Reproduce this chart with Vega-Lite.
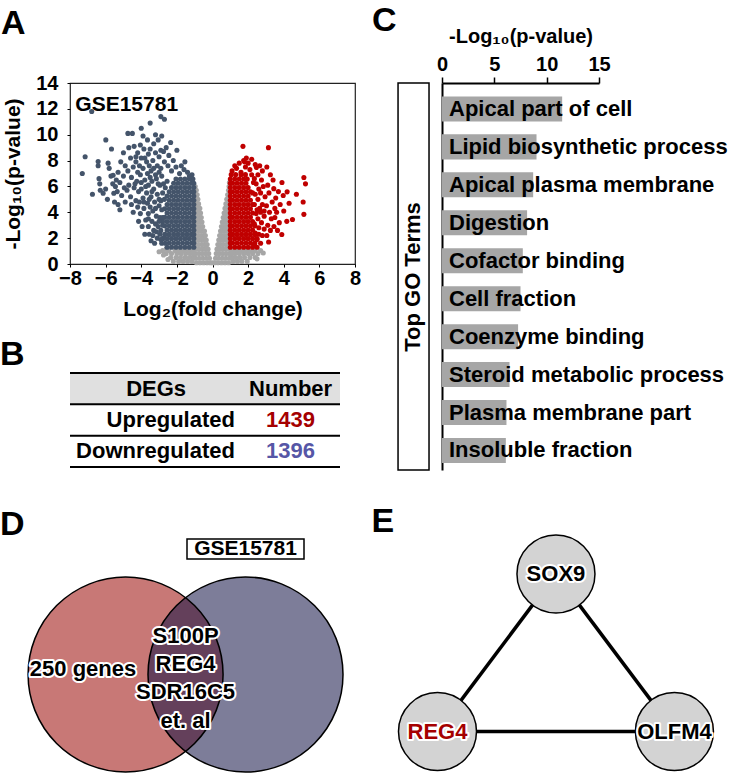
{
  "$schema": "https://vega.github.io/schema/vega-lite/v6.json",
  "background": "white",
  "padding": {"left": 0, "top": 4, "right": 0, "bottom": 0},
  "config": {
    "font": "Liberation Sans",
    "view": {"stroke": null},
    "title": {"fontSize": 34, "fontWeight": "bold", "anchor": "start", "frame": "group", "baseline": "alphabetic", "color": "black", "font": "Liberation Sans"},
    "axis": {"labelFont": "Liberation Sans", "titleFont": "Liberation Sans", "labelFontWeight": "bold", "titleFontWeight": "bold", "labelColor": "black", "titleColor": "black", "tickColor": "black", "domainColor": "black", "grid": false}
  },
  "datasets": {
    "ns": [
      {"x":-0.9,"y":0.1},{"x":-0.7,"y":0.1},{"x":-0.5,"y":0.1},{"x":-0.3,"y":0.1},{"x":-0.12,"y":0.1},{"x":0,"y":0.1},{"x":0.12,"y":0.1},{"x":0.3,"y":0.1},{"x":0.5,"y":0.1},{"x":0.7,"y":0.1},{"x":0.9,"y":0.1},
      {"x":-0.95,"y":0.45},{"x":-0.75,"y":0.45},{"x":-0.55,"y":0.45},{"x":-0.35,"y":0.45},{"x":-0.17,"y":0.45},{"x":0.17,"y":0.45},{"x":0.35,"y":0.45},{"x":0.55,"y":0.45},{"x":0.75,"y":0.45},{"x":0.95,"y":0.45},
      {"x":-0.95,"y":0.8},{"x":-0.76,"y":0.8},{"x":-0.57,"y":0.8},{"x":-0.38,"y":0.8},{"x":-0.21,"y":0.8},{"x":0.21,"y":0.8},{"x":0.38,"y":0.8},{"x":0.57,"y":0.8},{"x":0.76,"y":0.8},{"x":0.95,"y":0.8},
      {"x":-0.96,"y":1.15},{"x":-0.77,"y":1.15},{"x":-0.58,"y":1.15},{"x":-0.4,"y":1.15},{"x":-0.25,"y":1.15},{"x":0.25,"y":1.15},{"x":0.4,"y":1.15},{"x":0.58,"y":1.15},{"x":0.77,"y":1.15},{"x":0.96,"y":1.15},
      {"x":-0.96,"y":1.5},{"x":-0.78,"y":1.5},{"x":-0.6,"y":1.5},{"x":-0.44,"y":1.5},{"x":-0.3,"y":1.5},{"x":0.3,"y":1.5},{"x":0.44,"y":1.5},{"x":0.6,"y":1.5},{"x":0.78,"y":1.5},{"x":0.96,"y":1.5},
      {"x":-0.96,"y":1.85},{"x":-0.79,"y":1.85},{"x":-0.62,"y":1.85},{"x":-0.47,"y":1.85},{"x":-0.35,"y":1.85},{"x":0.35,"y":1.85},{"x":0.48,"y":1.85},{"x":0.63,"y":1.85},{"x":0.8,"y":1.85},{"x":0.97,"y":1.85},
      {"x":-0.96,"y":2.2},{"x":-0.8,"y":2.2},{"x":-0.64,"y":2.2},{"x":-0.5,"y":2.2},{"x":-0.4,"y":2.2},{"x":0.4,"y":2.2},{"x":0.52,"y":2.2},{"x":0.66,"y":2.2},{"x":0.81,"y":2.2},{"x":0.97,"y":2.2},
      {"x":-0.96,"y":2.55},{"x":-0.81,"y":2.55},{"x":-0.66,"y":2.55},{"x":-0.53,"y":2.55},{"x":-0.45,"y":2.55},{"x":0.45,"y":2.55},{"x":0.57,"y":2.55},{"x":0.7,"y":2.55},{"x":0.83,"y":2.55},{"x":0.97,"y":2.55},
      {"x":-0.97,"y":2.9},{"x":-0.83,"y":2.9},{"x":-0.69,"y":2.9},{"x":-0.55,"y":2.9},{"x":0.5,"y":2.9},{"x":0.62,"y":2.9},{"x":0.75,"y":2.9},{"x":0.87,"y":2.9},
      {"x":-0.97,"y":3.25},{"x":-0.84,"y":3.25},{"x":-0.71,"y":3.25},{"x":-0.59,"y":3.25},{"x":0.55,"y":3.25},{"x":0.66,"y":3.25},{"x":0.78,"y":3.25},{"x":0.9,"y":3.25},
      {"x":-0.97,"y":3.6},{"x":-0.85,"y":3.6},{"x":-0.73,"y":3.6},{"x":-0.63,"y":3.6},{"x":0.6,"y":3.6},{"x":0.71,"y":3.6},{"x":0.82,"y":3.6},
      {"x":-0.97,"y":3.95},{"x":-0.86,"y":3.95},{"x":-0.75,"y":3.95},{"x":-0.67,"y":3.95},{"x":0.65,"y":3.95},{"x":0.75,"y":3.95},{"x":0.86,"y":3.95},
      {"x":-0.97,"y":4.3},{"x":-0.87,"y":4.3},{"x":-0.77,"y":4.3},{"x":-0.71,"y":4.3},{"x":0.7,"y":4.3},{"x":0.8,"y":4.3},{"x":0.9,"y":4.3},
      {"x":-0.98,"y":4.65},{"x":-0.88,"y":4.65},{"x":-0.78,"y":4.65},{"x":0.75,"y":4.65},{"x":0.84,"y":4.65},
      {"x":-0.98,"y":5.0},{"x":-0.89,"y":5.0},{"x":-0.82,"y":5.0},{"x":0.8,"y":5.0},{"x":0.88,"y":5.0},
      {"x":-0.98,"y":5.35},{"x":-0.9,"y":5.35},{"x":-0.86,"y":5.35},{"x":0.85,"y":5.35},{"x":0.92,"y":5.35},
      {"x":-0.98,"y":5.7},{"x":-0.91,"y":5.7},{"x":0.9,"y":5.7},
      {"x":-0.97,"y":6.0},{"x":0.93,"y":6.0},{"x":0.95,"y":6.3},
      {"x":-1.15,"y":0.2},{"x":-1.4,"y":0.2},{"x":-1.65,"y":0.2},{"x":-1.9,"y":0.2},{"x":-2.2,"y":0.2},
      {"x":-1.1,"y":0.5},{"x":-1.3,"y":0.5},{"x":-1.55,"y":0.5},{"x":-1.8,"y":0.5},{"x":-2.05,"y":0.5},{"x":-2.35,"y":0.5},
      {"x":-1.05,"y":0.8},{"x":-1.25,"y":0.8},{"x":-1.5,"y":0.8},{"x":-1.75,"y":0.8},{"x":-2.0,"y":0.8},{"x":-2.3,"y":0.8},{"x":-2.6,"y":0.8},
      {"x":-1.15,"y":1.05},{"x":-1.35,"y":1.05},{"x":-1.6,"y":1.05},{"x":-1.85,"y":1.05},{"x":-2.1,"y":1.05},{"x":-2.45,"y":1.05},{"x":-2.8,"y":1.05},
      {"x":-2.5,"y":0.35},{"x":-2.75,"y":0.7},{"x":-3.0,"y":0.95},{"x":-2.6,"y":1.15},
      {"x":1.15,"y":0.2},{"x":1.4,"y":0.2},{"x":1.65,"y":0.2},{"x":1.95,"y":0.2},
      {"x":1.1,"y":0.5},{"x":1.3,"y":0.5},{"x":1.55,"y":0.5},{"x":1.8,"y":0.5},{"x":2.1,"y":0.5},{"x":2.4,"y":0.5},
      {"x":1.05,"y":0.8},{"x":1.25,"y":0.8},{"x":1.5,"y":0.8},{"x":1.75,"y":0.8},{"x":2.0,"y":0.8},{"x":2.25,"y":0.8},{"x":2.55,"y":0.8},
      {"x":1.15,"y":1.05},{"x":1.35,"y":1.05},{"x":1.6,"y":1.05},{"x":1.85,"y":1.05},{"x":2.1,"y":1.05},{"x":2.4,"y":1.05},{"x":2.7,"y":1.05},
      {"x":2.5,"y":0.4},{"x":2.85,"y":0.85},{"x":2.3,"y":1.15}
    ],
    "down": [
      {"x":-1.05,"y":1.3},{"x":-1.3,"y":1.3},{"x":-1.55,"y":1.3},{"x":-1.8,"y":1.3},{"x":-2.05,"y":1.3},{"x":-2.3,"y":1.3},{"x":-2.55,"y":1.3},
      {"x":-1.05,"y":1.63},{"x":-1.18,"y":1.63},{"x":-1.43,"y":1.63},{"x":-1.68,"y":1.63},{"x":-1.93,"y":1.63},{"x":-2.18,"y":1.63},{"x":-2.43,"y":1.63},
      {"x":-1.05,"y":1.96},{"x":-1.3,"y":1.96},{"x":-1.55,"y":1.96},{"x":-1.8,"y":1.96},{"x":-2.05,"y":1.96},{"x":-2.3,"y":1.96},{"x":-2.55,"y":1.96},{"x":-2.8,"y":1.96},
      {"x":-1.05,"y":2.29},{"x":-1.18,"y":2.29},{"x":-1.43,"y":2.29},{"x":-1.68,"y":2.29},{"x":-1.93,"y":2.29},{"x":-2.18,"y":2.29},{"x":-2.43,"y":2.29},{"x":-2.68,"y":2.29},
      {"x":-1.05,"y":2.62},{"x":-1.3,"y":2.62},{"x":-1.55,"y":2.62},{"x":-1.8,"y":2.62},{"x":-2.05,"y":2.62},{"x":-2.3,"y":2.62},{"x":-2.55,"y":2.62},
      {"x":-1.05,"y":2.95},{"x":-1.18,"y":2.95},{"x":-1.43,"y":2.95},{"x":-1.68,"y":2.95},{"x":-1.93,"y":2.95},{"x":-2.18,"y":2.95},{"x":-2.43,"y":2.95},{"x":-2.68,"y":2.95},
      {"x":-1.05,"y":3.28},{"x":-1.3,"y":3.28},{"x":-1.55,"y":3.28},{"x":-1.8,"y":3.28},{"x":-2.05,"y":3.28},{"x":-2.3,"y":3.28},{"x":-2.55,"y":3.28},{"x":-2.8,"y":3.28},
      {"x":-1.05,"y":3.61},{"x":-1.18,"y":3.61},{"x":-1.43,"y":3.61},{"x":-1.68,"y":3.61},{"x":-1.93,"y":3.61},{"x":-2.18,"y":3.61},{"x":-2.43,"y":3.61},{"x":-2.68,"y":3.61},
      {"x":-1.05,"y":3.94},{"x":-1.3,"y":3.94},{"x":-1.55,"y":3.94},{"x":-1.8,"y":3.94},{"x":-2.05,"y":3.94},{"x":-2.3,"y":3.94},{"x":-2.55,"y":3.94},
      {"x":-1.05,"y":4.27},{"x":-1.18,"y":4.27},{"x":-1.43,"y":4.27},{"x":-1.68,"y":4.27},{"x":-1.93,"y":4.27},{"x":-2.18,"y":4.27},{"x":-2.43,"y":4.27},{"x":-2.68,"y":4.27},
      {"x":-1.05,"y":4.6},{"x":-1.3,"y":4.6},{"x":-1.55,"y":4.6},{"x":-1.8,"y":4.6},{"x":-2.05,"y":4.6},{"x":-2.3,"y":4.6},{"x":-2.55,"y":4.6},
      {"x":-1.05,"y":4.93},{"x":-1.18,"y":4.93},{"x":-1.43,"y":4.93},{"x":-1.68,"y":4.93},{"x":-1.93,"y":4.93},{"x":-2.18,"y":4.93},{"x":-2.43,"y":4.93},
      {"x":-1.05,"y":5.26},{"x":-1.3,"y":5.26},{"x":-1.55,"y":5.26},{"x":-1.8,"y":5.26},{"x":-2.05,"y":5.26},{"x":-2.3,"y":5.26},{"x":-2.55,"y":5.26},
      {"x":-1.05,"y":5.59},{"x":-1.18,"y":5.59},{"x":-1.43,"y":5.59},{"x":-1.68,"y":5.59},{"x":-1.93,"y":5.59},{"x":-2.18,"y":5.59},{"x":-2.43,"y":5.59},
      {"x":-1.05,"y":5.92},{"x":-1.3,"y":5.92},{"x":-1.55,"y":5.92},{"x":-1.8,"y":5.92},{"x":-2.05,"y":5.92},{"x":-2.3,"y":5.92},
      {"x":-1.05,"y":6.25},{"x":-1.18,"y":6.25},{"x":-1.43,"y":6.25},{"x":-1.68,"y":6.25},{"x":-1.93,"y":6.25},{"x":-2.18,"y":6.25},
      {"x":-1.1,"y":6.58},{"x":-1.3,"y":6.58},{"x":-1.55,"y":6.58},{"x":-1.8,"y":6.58},{"x":-2.05,"y":6.58},
      {"x":-2.85,"y":1.6},{"x":-2.9,"y":2.6},{"x":-2.8,"y":3.0},{"x":-2.95,"y":3.6},{"x":-2.85,"y":4.2},{"x":-2.9,"y":4.9},{"x":-2.8,"y":5.5},{"x":-2.95,"y":6.1},{"x":-2.85,"y":6.8},{"x":-2.9,"y":7.4},{"x":-2.7,"y":7.9},{"x":-3.0,"y":8.3},
      {"x":-1.15,"y":6.9},{"x":-1.4,"y":7.1},{"x":-1.3,"y":6.8},{"x":-1.6,"y":7.3},{"x":-1.85,"y":7.0},{"x":-2.05,"y":7.5},{"x":-2.3,"y":7.2},{"x":-2.5,"y":7.6},{"x":-1.75,"y":7.6},{"x":-2.2,"y":8.0},{"x":-2.45,"y":8.4},{"x":-2.0,"y":8.8},{"x":-2.6,"y":9.0},{"x":-2.35,"y":9.4},{"x":-1.55,"y":7.9},{"x":-2.75,"y":8.7},{"x":-2.55,"y":6.4},{"x":-2.65,"y":5.9},{"x":-2.7,"y":5.0},
      {"x":-2.9,"y":11.4},{"x":-2.7,"y":11.2},{"x":-3.5,"y":10.9},{"x":-4.0,"y":10.5},{"x":-4.5,"y":10.1},{"x":-4.75,"y":10.1},{"x":-3.2,"y":10.0},{"x":-2.85,"y":9.9},{"x":-3.05,"y":9.6},{"x":-3.9,"y":9.9},
      {"x":-3.1,"y":2.0},{"x":-3.3,"y":2.6},{"x":-3.05,"y":2.9},{"x":-3.4,"y":3.3},{"x":-3.15,"y":3.7},{"x":-3.35,"y":4.1},{"x":-3.0,"y":4.5},{"x":-3.25,"y":4.8},{"x":-3.45,"y":5.2},{"x":-3.1,"y":5.4},{"x":-3.3,"y":5.8},{"x":-3.05,"y":6.2},{"x":-3.4,"y":6.4},{"x":-3.2,"y":6.9},{"x":-3.45,"y":7.2},{"x":-3.1,"y":7.6},{"x":-3.35,"y":8.0},{"x":-3.2,"y":8.6},{"x":-3.5,"y":8.9},{"x":-3.3,"y":9.3},{"x":-3.45,"y":1.8},{"x":-3.55,"y":2.3},{"x":-3.2,"y":3.1},
      {"x":-3.6,"y":2.9},{"x":-3.75,"y":3.4},{"x":-3.95,"y":2.9},{"x":-3.6,"y":3.9},{"x":-3.85,"y":4.3},{"x":-4.05,"y":3.9},{"x":-3.65,"y":4.7},{"x":-3.9,"y":5.1},{"x":-3.7,"y":5.5},{"x":-4.0,"y":5.8},{"x":-3.6,"y":6.1},{"x":-3.8,"y":6.5},{"x":-4.05,"y":6.9},{"x":-3.65,"y":7.0},{"x":-3.9,"y":7.4},{"x":-3.7,"y":7.9},{"x":-4.0,"y":8.2},{"x":-3.6,"y":8.5},{"x":-3.85,"y":8.9},{"x":-4.05,"y":9.2},{"x":-3.65,"y":9.6},{"x":-3.55,"y":5.0},{"x":-3.8,"y":2.3},
      {"x":-2.75,"y":2.0},{"x":-2.95,"y":2.3},{"x":-3.15,"y":2.5},{"x":-2.8,"y":3.6},{"x":-3.0,"y":3.3},{"x":-3.2,"y":4.3},{"x":-3.0,"y":5.0},{"x":-3.15,"y":6.6},{"x":-2.75,"y":6.2},{"x":-3.3,"y":7.4},{"x":-3.0,"y":7.1},{"x":-3.55,"y":7.6},{"x":-3.5,"y":6.7},{"x":-3.75,"y":6.0},{"x":-3.5,"y":4.4},{"x":-3.85,"y":4.8},{"x":-4.1,"y":4.8},{"x":-4.0,"y":6.3},{"x":-4.35,"y":6.2},{"x":-4.1,"y":7.6},{"x":-3.8,"y":8.2},{"x":-4.3,"y":8.3},{"x":-2.9,"y":8.8},{"x":-3.4,"y":5.6},{"x":-3.6,"y":3.5},{"x":-3.35,"y":2.2},{"x":-2.65,"y":1.6},{"x":-2.9,"y":1.9},{"x":-3.25,"y":1.6},
      {"x":-4.2,"y":4.4},{"x":-4.45,"y":4.0},{"x":-4.3,"y":4.9},{"x":-4.6,"y":5.2},{"x":-4.15,"y":5.6},{"x":-4.4,"y":5.9},{"x":-4.7,"y":6.1},{"x":-4.25,"y":6.4},{"x":-4.55,"y":6.7},{"x":-4.2,"y":7.1},{"x":-4.45,"y":7.5},{"x":-4.75,"y":7.2},{"x":-4.3,"y":7.9},{"x":-4.6,"y":8.2},{"x":-4.2,"y":8.6},{"x":-4.4,"y":9.1},{"x":-4.7,"y":9.0},{"x":-4.15,"y":3.3},{"x":-4.55,"y":4.6},{"x":-4.8,"y":5.7},
      {"x":-4.9,"y":4.8},{"x":-5.1,"y":5.3},{"x":-4.95,"y":5.9},{"x":-5.2,"y":6.3},{"x":-5.0,"y":6.8},{"x":-5.3,"y":7.1},{"x":-4.9,"y":7.6},{"x":-5.15,"y":7.9},{"x":-5.35,"y":5.6},{"x":-5.4,"y":6.5},{"x":-5.0,"y":8.6},{"x":-5.2,"y":4.2},{"x":-5.45,"y":6.0},{"x":-5.3,"y":4.6},
      {"x":-5.6,"y":6.2},{"x":-5.7,"y":6.8},{"x":-5.58,"y":6.86},{"x":-5.67,"y":8.9},{"x":-5.86,"y":7.8},{"x":-5.8,"y":7.4},{"x":-5.99,"y":9.6},{"x":-6.14,"y":5.47},{"x":-6.3,"y":5.7},{"x":-6.33,"y":6.2},{"x":-6.37,"y":6.6},{"x":-6.42,"y":7.6},{"x":-6.42,"y":7.93},{"x":-5.54,"y":5.47},{"x":-5.5,"y":4.8},{"x":-5.9,"y":5.0},{"x":-6.0,"y":5.8},
      {"x":-6.74,"y":5.4},{"x":-6.78,"y":11.8},{"x":-7.15,"y":8.3},{"x":-7.31,"y":7.0}
    ],
    "up": [
      {"x":1.0,"y":1.3},{"x":1.25,"y":1.3},{"x":1.5,"y":1.3},{"x":1.75,"y":1.3},{"x":2.0,"y":1.3},{"x":2.25,"y":1.3},{"x":2.5,"y":1.3},
      {"x":1.0,"y":1.63},{"x":1.13,"y":1.63},{"x":1.38,"y":1.63},{"x":1.63,"y":1.63},{"x":1.88,"y":1.63},{"x":2.13,"y":1.63},{"x":2.38,"y":1.63},
      {"x":1.0,"y":1.96},{"x":1.25,"y":1.96},{"x":1.5,"y":1.96},{"x":1.75,"y":1.96},{"x":2.0,"y":1.96},{"x":2.25,"y":1.96},{"x":2.5,"y":1.96},
      {"x":1.0,"y":2.29},{"x":1.13,"y":2.29},{"x":1.38,"y":2.29},{"x":1.63,"y":2.29},{"x":1.88,"y":2.29},{"x":2.13,"y":2.29},{"x":2.38,"y":2.29},
      {"x":1.0,"y":2.62},{"x":1.25,"y":2.62},{"x":1.5,"y":2.62},{"x":1.75,"y":2.62},{"x":2.0,"y":2.62},{"x":2.25,"y":2.62},
      {"x":1.0,"y":2.95},{"x":1.13,"y":2.95},{"x":1.38,"y":2.95},{"x":1.63,"y":2.95},{"x":1.88,"y":2.95},{"x":2.13,"y":2.95},{"x":2.38,"y":2.95},
      {"x":1.0,"y":3.28},{"x":1.25,"y":3.28},{"x":1.5,"y":3.28},{"x":1.75,"y":3.28},{"x":2.0,"y":3.28},{"x":2.25,"y":3.28},
      {"x":1.0,"y":3.61},{"x":1.13,"y":3.61},{"x":1.38,"y":3.61},{"x":1.63,"y":3.61},{"x":1.88,"y":3.61},{"x":2.13,"y":3.61},
      {"x":1.0,"y":3.94},{"x":1.25,"y":3.94},{"x":1.5,"y":3.94},{"x":1.75,"y":3.94},{"x":2.0,"y":3.94},{"x":2.25,"y":3.94},
      {"x":1.0,"y":4.27},{"x":1.13,"y":4.27},{"x":1.38,"y":4.27},{"x":1.63,"y":4.27},{"x":1.88,"y":4.27},{"x":2.13,"y":4.27},
      {"x":1.0,"y":4.6},{"x":1.25,"y":4.6},{"x":1.5,"y":4.6},{"x":1.75,"y":4.6},{"x":2.0,"y":4.6},{"x":2.25,"y":4.6},
      {"x":1.0,"y":4.93},{"x":1.13,"y":4.93},{"x":1.38,"y":4.93},{"x":1.63,"y":4.93},{"x":1.88,"y":4.93},{"x":2.13,"y":4.93},
      {"x":1.0,"y":5.26},{"x":1.25,"y":5.26},{"x":1.5,"y":5.26},{"x":1.75,"y":5.26},{"x":2.0,"y":5.26},
      {"x":1.0,"y":5.59},{"x":1.13,"y":5.59},{"x":1.38,"y":5.59},{"x":1.63,"y":5.59},{"x":1.88,"y":5.59},{"x":2.13,"y":5.59},
      {"x":1.0,"y":5.92},{"x":1.25,"y":5.92},{"x":1.5,"y":5.92},{"x":1.75,"y":5.92},{"x":2.0,"y":5.92},
      {"x":1.0,"y":6.25},{"x":1.13,"y":6.25},{"x":1.38,"y":6.25},{"x":1.63,"y":6.25},{"x":1.88,"y":6.25},
      {"x":1.0,"y":6.58},{"x":1.25,"y":6.58},{"x":1.5,"y":6.58},{"x":1.75,"y":6.58},{"x":1.95,"y":6.58},
      {"x":1.05,"y":6.91},{"x":1.3,"y":6.91},{"x":1.6,"y":6.91},{"x":1.85,"y":6.91},
      {"x":1.1,"y":7.2},{"x":1.35,"y":7.4},{"x":1.6,"y":7.1},{"x":1.85,"y":7.5},{"x":2.1,"y":7.3},{"x":1.5,"y":7.8},{"x":1.75,"y":8.0},{"x":1.9,"y":8.2},{"x":1.8,"y":7.9},{"x":2.0,"y":7.8},{"x":1.25,"y":7.6},{"x":1.71,"y":9.1},{"x":2.4,"y":7.7},{"x":2.2,"y":8.1},{"x":2.2,"y":6.9},{"x":2.3,"y":6.3},{"x":2.25,"y":5.5},
      {"x":2.35,"y":1.5},{"x":2.5,"y":1.9},{"x":2.4,"y":2.4},{"x":2.6,"y":2.8},{"x":2.35,"y":3.1},{"x":2.55,"y":3.5},{"x":2.45,"y":3.9},{"x":2.65,"y":4.3},{"x":2.35,"y":4.6},{"x":2.55,"y":5.0},{"x":2.4,"y":5.4},{"x":2.6,"y":5.8},{"x":2.45,"y":6.2},{"x":2.35,"y":6.6},{"x":2.55,"y":6.9},{"x":2.7,"y":1.6},{"x":2.8,"y":2.2},{"x":2.75,"y":3.2},{"x":2.9,"y":3.7},{"x":2.8,"y":4.6},{"x":2.95,"y":5.2},{"x":2.7,"y":5.5},{"x":2.85,"y":6.0},{"x":2.75,"y":6.5},{"x":2.9,"y":2.7},{"x":2.46,"y":7.46},{"x":2.8,"y":7.2},{"x":2.65,"y":7.6},{"x":2.6,"y":2.3},{"x":2.5,"y":4.2},{"x":2.7,"y":4.0},{"x":2.9,"y":4.1},
      {"x":3.03,"y":4.5},{"x":3.17,"y":5.5},{"x":3.44,"y":5.83},{"x":3.4,"y":6.5},{"x":3.14,"y":9.0},{"x":3.1,"y":3.0},{"x":3.3,"y":3.5},{"x":3.2,"y":4.0},{"x":3.5,"y":4.3},{"x":3.05,"y":2.2},{"x":3.25,"y":2.6},{"x":3.45,"y":2.9},{"x":3.35,"y":4.8},{"x":3.55,"y":5.1},{"x":3.1,"y":6.1},{"x":3.25,"y":6.9},{"x":3.05,"y":7.5},{"x":3.5,"y":3.6},{"x":3.6,"y":4.0},{"x":3.15,"y":1.7},
      {"x":3.97,"y":5.3},{"x":3.89,"y":2.28},{"x":4.17,"y":3.3},{"x":4.49,"y":3.44},{"x":4.19,"y":5.58},{"x":4.71,"y":5.39},{"x":5.13,"y":6.69},{"x":5.22,"y":6.2},{"x":5.09,"y":4.8},{"x":5.13,"y":3.84},{"x":3.7,"y":5.6},{"x":3.8,"y":4.6},{"x":3.75,"y":3.2},{"x":4.0,"y":4.1},{"x":3.65,"y":2.6},{"x":3.9,"y":6.3},{"x":4.3,"y":4.7}
    ],
    "table": [
      {"row": "h", "c1": "DEGs", "c2": "Number"},
      {"row": "u", "c1": "Upregulated", "c2": "1439"},
      {"row": "d", "c1": "Downregulated", "c2": "1396"}
    ],
    "go": [
      {"term": "Apical part of cell", "value": 11.48},
      {"term": "Lipid biosynthetic process", "value": 9.03},
      {"term": "Apical plasma membrane", "value": 8.71},
      {"term": "Digestion", "value": 8.13},
      {"term": "Cofactor binding", "value": 7.72},
      {"term": "Cell fraction", "value": 7.5},
      {"term": "Coenzyme binding", "value": 7.27},
      {"term": "Steroid metabolic process", "value": 6.45},
      {"term": "Plasma membrane part", "value": 6.16},
      {"term": "Insoluble fraction", "value": 6.1}
    ],
    "venn": [
      {"set": "DEGs", "x": -0.615, "y": 0},
      {"set": "GSE15781", "x": 0.615, "y": 0}
    ],
    "vennLabels": [
      {"t": "250 genes", "x": -1.051, "y": 0.056},
      {"t": "S100P", "x": 0, "y": 0.4},
      {"t": "REG4", "x": 0, "y": 0.108},
      {"t": "SDR16C5", "x": 0, "y": -0.18},
      {"t": "et. al", "x": 0, "y": -0.474}
    ],
    "nodes": [
      {"gene": "SOX9", "x": 0.5, "y": 0.665},
      {"gene": "REG4", "x": 0, "y": 0},
      {"gene": "OLFM4", "x": 1, "y": 0}
    ],
    "edges": [
      {"from": "SOX9", "to": "REG4", "x": 0.5, "y": 0.665, "x2": 0, "y2": 0},
      {"from": "SOX9", "to": "OLFM4", "x": 0.5, "y": 0.665, "x2": 1, "y2": 0},
      {"from": "REG4", "to": "OLFM4", "x": 0, "y": 0, "x2": 1, "y2": 0}
    ]
  },
  "spacing": 9,
  "hconcat": [
    {
      "spacing": 18,
      "vconcat": [
        {
          "width": 285, "height": 181,
          "view": {"stroke": "#222222", "strokeWidth": 1.2},
          "title": {"text": "A", "dx": -69, "offset": 32},
          "encoding": {
            "x": {"field": "x", "type": "quantitative", "scale": {"domain": [-8, 8], "nice": false, "zero": false},
                  "axis": {"title": "Log₂(fold change)", "values": [-8, -6, -4, -2, 0, 2, 4, 6, 8], "labelFontSize": 20, "titleFontSize": 21, "tickSize": 3, "domain": false, "labelPadding": 1, "titlePadding": 10, "labelFlush": false, "labelOverlap": false}},
            "y": {"field": "y", "type": "quantitative", "scale": {"domain": [0, 14], "nice": false, "zero": false},
                  "axis": {"title": "-Log₁₀(p-value)", "values": [0, 2, 4, 6, 8, 10, 12, 14], "labelFontSize": 20, "titleFontSize": 21, "tickSize": 3, "domain": false, "labelPadding": 9, "titlePadding": 12, "labelFlush": false, "labelOverlap": false}}
          },
          "layer": [
            {"data": {"name": "ns"}, "mark": {"type": "point", "shape": "circle", "filled": true, "size": 26, "opacity": 1, "color": "#a6a6a6"}},
            {"data": {"name": "down"}, "mark": {"type": "point", "shape": "circle", "filled": true, "size": 26, "opacity": 1, "color": "#44546a"}},
            {"data": {"name": "up"}, "mark": {"type": "point", "shape": "circle", "filled": true, "size": 26, "opacity": 1, "color": "#c00000"}},
            {"data": {"values": [{"label": "GSE15781", "x": -7.7, "y": 11.85}]}, "mark": {"type": "text", "align": "left", "baseline": "alphabetic", "fontSize": 21, "fontWeight": "bold", "color": "black"}, "encoding": {"text": {"field": "label"}}}
          ]
        },
        {
          "width": 270, "height": 116,
          "title": {"text": "B", "dx": -70, "offset": 0},
          "data": {"name": "table"},
          "encoding": {
            "y": {"field": "row", "type": "nominal", "sort": null, "scale": {"domain": ["h", "u", "d"], "paddingInner": 0, "paddingOuter": 0.35, "align": 0}, "axis": null}
          },
          "layer": [
            {"transform": [{"filter": "datum.row === 'h'"}], "mark": {"type": "rect", "color": "#e0e0e0"}},
            {"mark": {"type": "rule", "color": "black", "strokeWidth": 2}, "encoding": {"y": {"field": "row", "type": "nominal", "sort": null, "bandPosition": 0}}},
            {"transform": [{"filter": "datum.row === 'd'"}], "mark": {"type": "rule", "color": "black", "strokeWidth": 2}, "encoding": {"y": {"field": "row", "type": "nominal", "sort": null, "bandPosition": 1}}},
            {"transform": [{"filter": "datum.row === 'h'"}], "mark": {"type": "text", "fontSize": 22, "fontWeight": "bold", "align": "center", "baseline": "middle", "color": "black"},
             "encoding": {"x": {"datum": 0.319, "type": "quantitative", "scale": {"domain": [0, 1], "nice": false}, "axis": null}, "text": {"field": "c1"}}},
            {"transform": [{"filter": "datum.row !== 'h'"}], "mark": {"type": "text", "fontSize": 22, "fontWeight": "bold", "align": "right", "baseline": "middle", "color": "black"},
             "encoding": {"x": {"datum": 0.611, "type": "quantitative", "scale": {"domain": [0, 1], "nice": false}, "axis": null}, "text": {"field": "c1"}}},
            {"mark": {"type": "text", "fontSize": 22, "fontWeight": "bold", "align": "center", "baseline": "middle"},
             "encoding": {"x": {"datum": 0.817, "type": "quantitative", "scale": {"domain": [0, 1], "nice": false}, "axis": null}, "text": {"field": "c2"},
                          "color": {"field": "row", "type": "nominal", "scale": {"domain": ["h", "u", "d"], "range": ["black", "#a50000", "#5656a6"]}, "legend": null}}}
          ]
        },
        {
          "width": 273, "height": 233,
          "title": {"text": "D", "dx": -70, "offset": -4},
          "encoding": {
            "x": {"field": "x", "type": "quantitative", "scale": {"domain": [-1.185, 1.615], "nice": false, "zero": false}, "axis": null},
            "y": {"field": "y", "type": "quantitative", "scale": {"domain": [-1.0, 1.39], "nice": false, "zero": false}, "axis": null}
          },
          "layer": [
            {"data": {"name": "venn"}, "transform": [{"filter": "datum.set === 'DEGs'"}], "mark": {"type": "point", "shape": "circle", "filled": true, "size": 38025, "opacity": 1, "color": "#c87876"}},
            {"data": {"name": "venn"}, "transform": [{"filter": "datum.set === 'GSE15781'"}], "mark": {"type": "point", "shape": "circle", "filled": true, "size": 38025, "opacity": 0.55, "color": "#131346"}},
            {"data": {"name": "venn"}, "mark": {"type": "point", "shape": "circle", "filled": false, "size": 38025, "opacity": 1, "color": "black", "strokeWidth": 1.5}},
            {"data": {"values": [{"label": "GSE15781", "x": 0.015, "x2": 1.215, "y": 1.185, "y2": 1.39}]}, "mark": {"type": "rect", "fill": "white", "stroke": "black", "strokeWidth": 1.5}, "encoding": {"x2": {"field": "x2"}, "y2": {"field": "y2"}}},
            {"data": {"values": [{"label": "GSE15781", "x": 0.615, "y": 1.2875}]}, "mark": {"type": "text", "fontSize": 21, "fontWeight": "bold", "baseline": "middle", "align": "center", "color": "black"}, "encoding": {"text": {"field": "label"}}},
            {"data": {"name": "vennLabels"}, "mark": {"type": "text", "fontSize": 22, "fontWeight": "bold", "baseline": "middle", "align": "center", "fill": "white", "stroke": "white", "strokeWidth": 4, "strokeJoin": "round"}, "encoding": {"text": {"field": "t"}}},
            {"data": {"name": "vennLabels"}, "mark": {"type": "text", "fontSize": 22, "fontWeight": "bold", "baseline": "middle", "align": "center", "color": "black"}, "encoding": {"text": {"field": "t"}}}
          ]
        }
      ]
    },
    {
      "spacing": 33,
      "vconcat": [
        {
          "width": 157, "height": 387,
          "title": {"text": "C", "dx": -70, "offset": -12},
          "layer": [
            {"data": {"values": [{"label": "Top GO Terms"}]}, "mark": {"type": "rect", "filled": false, "color": "black", "strokeWidth": 1.5},
             "encoding": {"x": {"datum": -4.2, "type": "quantitative", "scale": {"domain": [0, 15], "nice": false, "zero": false}}, "x2": {"datum": -1.24}}},
            {"data": {"name": "go"}, "mark": {"type": "bar", "color": "#a6a6a6"},
             "encoding": {
               "x": {"field": "value", "type": "quantitative", "scale": {"domain": [0, 15], "nice": false, "zero": false},
                     "axis": {"orient": "top", "title": "-Log₁₀(p-value)", "values": [0, 5, 10, 15], "labelFontSize": 20, "titleFontSize": 20, "tickSize": 6, "tickWidth": 1.5, "domainWidth": 2, "labelPadding": 3, "titlePadding": 8, "labelFlush": false, "labelOverlap": false}},
               "y": {"field": "term", "type": "nominal", "sort": null, "scale": {"paddingInner": 0.341, "paddingOuter": 0.269, "align": 0.657},
                     "axis": {"title": "Top GO Terms", "labels": false, "ticks": false, "domainWidth": 2, "titleFontSize": 22, "titlePadding": 18}}
             }},
            {"data": {"name": "go"}, "mark": {"type": "text", "align": "left", "baseline": "middle", "dx": 7, "fontSize": 22, "fontWeight": "bold", "color": "black"},
             "encoding": {"x": {"datum": 0, "type": "quantitative"}, "y": {"field": "term", "type": "nominal", "sort": null}, "text": {"field": "term"}}}
          ]
        },
        {
          "width": 272, "height": 235,
          "title": {"text": "E", "dx": -70.5, "offset": -7},
          "encoding": {
            "x": {"field": "x", "type": "quantitative", "scale": {"domain": [0.019, 1.167], "nice": false, "zero": false}, "axis": null},
            "y": {"field": "y", "type": "quantitative", "scale": {"domain": [-0.162, 0.829], "nice": false, "zero": false}, "axis": null}
          },
          "layer": [
            {"data": {"name": "edges"}, "mark": {"type": "rule", "color": "black", "strokeWidth": 3.5}, "encoding": {"x2": {"field": "x2"}, "y2": {"field": "y2"}}},
            {"data": {"name": "nodes"}, "mark": {"type": "point", "shape": "circle", "filled": true, "fill": "#d3d3d3", "stroke": "black", "strokeWidth": 1.5, "size": 6084, "opacity": 1}},
            {"data": {"name": "nodes"}, "mark": {"type": "text", "fontSize": 22, "fontWeight": "bold", "baseline": "middle", "align": "center", "fill": "white", "stroke": "white", "strokeWidth": 4, "strokeJoin": "round"}, "encoding": {"text": {"field": "gene"}}},
            {"data": {"name": "nodes"}, "mark": {"type": "text", "fontSize": 22, "fontWeight": "bold", "baseline": "middle", "align": "center"},
             "encoding": {"text": {"field": "gene"}, "color": {"condition": {"test": "datum.gene === 'REG4'", "value": "#a50000"}, "value": "black"}}}
          ]
        }
      ]
    }
  ]
}
